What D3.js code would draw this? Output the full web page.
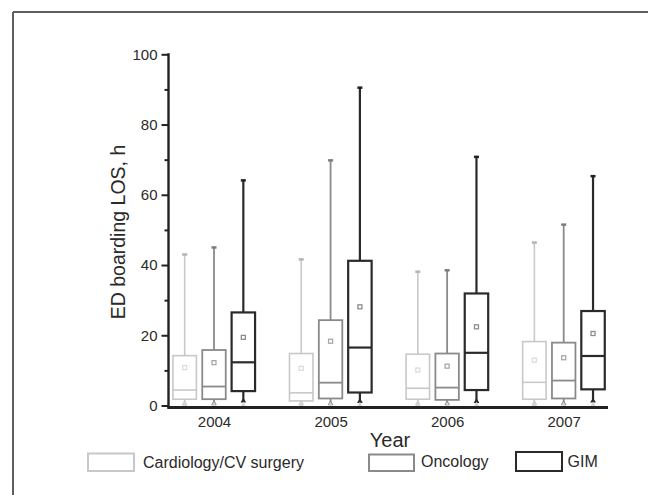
<!DOCTYPE html>
<html>
<head>
<meta charset="utf-8">
<script src="https://cdn.jsdelivr.net/npm/d3@7"></script>
<style>
  body { margin: 0; background: #fff; }
  svg { display: block; }
  text { font-family: "Liberation Sans", Arial, sans-serif; fill: #2a2a2a; }
</style>
</head>
<body>
<svg id="chart"></svg>
<script>
// categories
const years = ['2004', '2005', '2006', '2007'];
const services = ['Cardiology/CV surgery', 'Oncology', 'GIM'];
const yTicks = [0, 20, 40, 60, 80, 100];
const yMinorTicks = [10, 30, 50, 70, 90];

// box statistics (h), one value per year
const cardioMax    = [43.0, 41.6, 38.1, 46.4];
const cardioQ3     = [14.2, 14.8, 14.6, 18.2];
const cardioMedian = [4.4, 3.6, 4.9, 6.6];
const cardioQ1     = [1.8, 1.3, 1.8, 1.8];
const cardioLow    = [0.6, 0.6, 0.6, 0.6];
const cardioMean   = [10.8, 10.6, 10.1, 12.9];

const oncoMax    = [45.0, 69.8, 38.5, 51.5];
const oncoQ3     = [15.8, 24.3, 14.8, 17.9];
const oncoMedian = [5.4, 6.5, 5.1, 7.1];
const oncoQ1     = [1.8, 2.0, 1.6, 2.0];
const oncoLow    = [0.6, 0.6, 0.6, 0.6];
const oncoMean   = [12.2, 18.3, 11.2, 13.6];

const gimMax    = [64.1, 90.5, 70.8, 65.3];
const gimQ3     = [26.5, 41.2, 31.9, 26.9];
const gimMedian = [12.3, 16.5, 15.0, 14.1];
const gimQ1     = [4.1, 3.7, 4.4, 4.6];
const gimLow    = [1.3, 1.2, 1.2, 1.3];
const gimMean   = [19.4, 28.1, 22.4, 20.5];

const minimums = [0, 0, 0, 0];

// build rows for the library
const stats = [
  { max: cardioMax, q3: cardioQ3, med: cardioMedian, q1: cardioQ1, low: cardioLow, mean: cardioMean },
  { max: oncoMax, q3: oncoQ3, med: oncoMedian, q1: oncoQ1, low: oncoLow, mean: oncoMean },
  { max: gimMax, q3: gimQ3, med: gimMedian, q1: gimQ1, low: gimLow, mean: gimMean }
];
const boxes = [];
years.forEach((yr, i) => {
  services.forEach((s, j) => {
    const st = stats[j];
    boxes.push({ year: yr, service: s, max: st.max[i], q3: st.q3[i], med: st.med[i],
                 q1: st.q1[i], low: st.low[i], mean: st.mean[i], min: minimums[i] });
  });
});

// narrow font if the machine has it, else regular sans at a smaller size
const ctx = document.createElement('canvas').getContext('2d');
ctx.font = '20px monospace';
const monoW = ctx.measureText('Cardiology/CV surgery').width;
ctx.font = '20px "Liberation Sans Narrow", monospace';
const hasNarrow = ctx.measureText('Cardiology/CV surgery').width !== monoW;
const narrowFont = hasNarrow ? '"Liberation Sans Narrow", "Liberation Sans", sans-serif' : '"Liberation Sans", sans-serif';
const tickSize = hasNarrow ? '17px' : '15px';
const legendSize = hasNarrow ? '19px' : '16px';

const strokeColor = d3.scaleOrdinal().domain(services).range(['#c8c8c8', '#8a8a8a', '#2a2a2a']);
const meanColor = d3.scaleOrdinal().domain(services).range(['#dcdcdc', '#a8a8a8', '#8c8c8c']);
const strokeW = d3.scaleOrdinal().domain(services).range([1.6, 1.8, 2.2]);

const width = 648, height = 495;
const svg = d3.select('#chart').attr('width', width).attr('height', height);

// frame (top and left edges only)
svg.append('line').attr('x1', 13).attr('y1', 12).attr('x2', width).attr('y2', 12)
  .attr('stroke', '#5e5e5e').attr('stroke-width', 2);
svg.append('line').attr('x1', 13).attr('y1', 12).attr('x2', 13).attr('y2', height)
  .attr('stroke', '#5e5e5e').attr('stroke-width', 2);

// scales
const y = d3.scaleLinear().domain([0, 100]).range([405.5, 54.3]);
const x = d3.scalePoint().domain(years).range([214, 563.7]);
const sub = d3.scaleBand().domain(services).range([-44, 44]).paddingInner(0.2).paddingOuter(0.1);
const bw = sub.bandwidth();
const axisX = 168.5;

// y axis
const yAxis = d3.axisLeft(y).tickValues(yTicks).tickSize(7).tickPadding(4);
const yAxisG = svg.append('g')
  .attr('class', 'axis y-axis')
  .attr('transform', `translate(${axisX},0)`)
  .call(yAxis);
yAxisG.select('.domain').remove();
yAxisG.selectAll('.tick line').attr('stroke', '#222').attr('stroke-width', 2);
yAxisG.selectAll('.tick text')
  .style('font-family', narrowFont).style('font-size', tickSize).attr('fill', '#2a2a2a');

const yMinor = d3.axisLeft(y).tickValues(yMinorTicks).tickSize(4).tickFormat('');
const yMinorG = svg.append('g')
  .attr('transform', `translate(${axisX},0)`)
  .call(yMinor);
yMinorG.select('.domain').remove();
yMinorG.selectAll('.tick line').attr('stroke', '#222').attr('stroke-width', 2);

svg.append('line')
  .attr('x1', axisX).attr('y1', y(100) - 1)
  .attr('x2', axisX).attr('y2', y(0) + 3)
  .attr('stroke', '#222').attr('stroke-width', 2.4);

// boxes
const g = svg.append('g').selectAll('g.box')
  .data(boxes)
  .join('g')
  .attr('class', 'box')
  .attr('transform', d => `translate(${x(d.year) + sub(d.service)},0)`);

// whisker
g.append('line')
  .attr('x1', bw / 2).attr('x2', bw / 2)
  .attr('y1', d => y(d.max)).attr('y2', d => y(d.low))
  .attr('stroke', d => strokeColor(d.service))
  .attr('stroke-width', d => strokeW(d.service));

// top cap
g.append('line')
  .attr('x1', bw / 2 - 2.5).attr('x2', bw / 2 + 2.5)
  .attr('y1', d => y(d.max)).attr('y2', d => y(d.max))
  .attr('stroke', d => d.service === 'GIM' ? '#222' : d3.color(strokeColor(d.service)).darker(0.3))
  .attr('stroke-width', 2.5);

// low marker
g.append('path')
  .attr('d', d3.symbol(d3.symbolTriangle, 14))
  .attr('transform', d => `translate(${bw / 2},${y(d.low)})`)
  .attr('fill', d => strokeColor(d.service));

// faint min marker
g.append('path')
  .attr('d', d3.symbol(d3.symbolTriangle, 10))
  .attr('transform', d => `translate(${bw / 2},${y(d.min) - 1})`)
  .attr('fill', '#d6d6d6');

// box
g.append('rect')
  .attr('x', 0).attr('width', bw)
  .attr('y', d => y(d.q3))
  .attr('height', d => y(d.q1) - y(d.q3))
  .attr('fill', '#fff')
  .attr('stroke', d => strokeColor(d.service))
  .attr('stroke-width', d => strokeW(d.service));

// median
g.append('line')
  .attr('x1', 0).attr('x2', bw)
  .attr('y1', d => y(d.med)).attr('y2', d => y(d.med))
  .attr('stroke', d => strokeColor(d.service))
  .attr('stroke-width', d => strokeW(d.service));

// mean
g.append('rect')
  .attr('x', bw / 2 - 2).attr('width', 4)
  .attr('y', d => y(d.mean) - 2).attr('height', 4)
  .attr('fill', 'none')
  .attr('stroke', d => meanColor(d.service))
  .attr('stroke-width', 1.3);

// x axis
svg.append('line')
  .attr('x1', axisX - 1).attr('x2', 608)
  .attr('y1', y(0) + 2).attr('y2', y(0) + 2)
  .attr('stroke', '#222').attr('stroke-width', 3);

const xAxis = d3.axisBottom(x).tickSize(0).tickPadding(8);
const xAxisG = svg.append('g')
  .attr('class', 'axis x-axis')
  .attr('transform', `translate(0,${y(0) + 3})`)
  .call(xAxis);
xAxisG.select('.domain').remove();
xAxisG.selectAll('.tick text')
  .style('font-family', narrowFont).style('font-size', tickSize).attr('fill', '#2a2a2a');

// axis titles
svg.append('text')
  .attr('x', 390).attr('y', 447)
  .attr('text-anchor', 'middle')
  .style('font-size', '20px')
  .text('Year');

svg.append('text')
  .attr('transform', 'rotate(-90)')
  .attr('x', -232).attr('y', 125)
  .attr('text-anchor', 'middle')
  .style('font-size', '19.5px')
  .text('ED boarding LOS, h');

// legend
const legendPos = [
  { bx: 88, by: 453.5, bw: 46, bh: 17.5, tx: 143, ty: 468 },
  { bx: 369, by: 454.5, bw: 45, bh: 16.5, tx: 421, ty: 467 },
  { bx: 516, by: 452, bw: 46, bh: 19, tx: 567.5, ty: 467 }
];
const legend = svg.append('g').selectAll('g')
  .data(services)
  .join('g');
legend.append('rect')
  .attr('x', (d, i) => legendPos[i].bx).attr('y', (d, i) => legendPos[i].by)
  .attr('width', (d, i) => legendPos[i].bw).attr('height', (d, i) => legendPos[i].bh)
  .attr('fill', '#fff')
  .attr('stroke', d => strokeColor(d))
  .attr('stroke-width', 2);
legend.append('text')
  .attr('x', (d, i) => legendPos[i].tx).attr('y', (d, i) => legendPos[i].ty)
  .style('font-family', narrowFont)
  .style('font-size', legendSize)
  .text(d => d);
</script>
</body>
</html>
